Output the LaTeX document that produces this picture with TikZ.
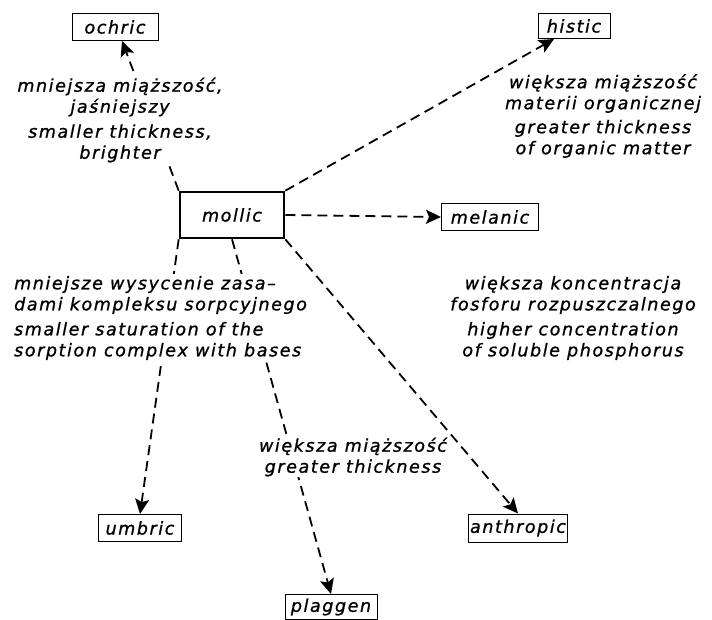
\documentclass[tikz,border=0pt]{standalone}
\usepackage{fontspec}
\setmainfont{DejaVu Sans}
\newfontfamily\beschrift[LetterSpace=9,FakeBold=1]{DejaVu Sans}
\usetikzlibrary{arrows.meta}
\tikzset{
	schrift/.style={font=\beschrift\itshape\fontsize{17.5}{21}\selectfont},
	horizont/.style={schrift,draw,line width=1pt,inner sep=2pt},
	erklaerung/.style={schrift,align=center,fill=white,inner sep=2pt},
	weg/.style={line width=1.8pt,dash pattern=on 10pt off 6pt,-{Stealth[length=15pt,width=14pt,inset=3pt]}}
}
\begin{document}
\begin{tikzpicture}[x=1pt,y=-1pt]
	\useasboundingbox (0,0) rectangle (712,619);
	% Horizonte
	\node[horizont,line width=2.6pt,minimum width=104pt,minimum height=46pt] (mollic) at (232,215) {mollic};
	\node[horizont,minimum width=86pt,minimum height=27pt] (ochric) at (115,27) {ochric};
	\node[horizont,minimum width=72pt,minimum height=25pt] (histic) at (574,26) {histic};
	\node[horizont,minimum width=97pt,minimum height=27pt] (melanic) at (490,217) {melanic};
	\node[horizont,minimum width=83pt,minimum height=27pt] (umbric) at (140,528) {umbric};
	\node[horizont,minimum width=92pt,minimum height=25pt] (plaggen) at (331,607) {plaggen};
	\node[horizont,minimum width=94pt,minimum height=28pt] (anthropic) at (518,528) {anthropic};
	% Pfeile
	\draw[weg] (mollic.north west) to ([xshift=7pt]ochric.south);
	\draw[weg] (mollic.north east) to ([xshift=-20pt]histic.south);
	\draw[weg] (mollic.east) to (melanic.west);
	\draw[weg] (mollic.south west) to (umbric.north);
	\draw[weg] (mollic.south) to (plaggen.north);
	\draw[weg] (mollic.south east) to (anthropic.north);
	% Beschriftungen
	\node[erklaerung] (t-ochric) at (120,120) {mniejsza miąższość,\\ jaśniejszy\\[4pt] smaller thickness,\\ brighter};
	\node[erklaerung] (t-histic) at (603,116) {większa miąższość\\ materii organicznej\\[3pt] greater thickness\\ of organic matter};
	\node[erklaerung] (t-anthropic) at (573,318) {większa koncentracja\\ fosforu rozpuszczalnego\\[4pt] higher concentration\\ of soluble phosphorus};
	\node[erklaerung,align=left,anchor=west] (t-umbric) at (12,318) {mniejsze wysycenie zasa–\\ dami kompleksu sorpcyjnego\\[4pt] smaller saturation of the\\ sorption complex with bases};
	\node[erklaerung,inner sep=1pt] (t-plaggen) at (353,457) {większa miąższość\\ greater thickness};
\end{tikzpicture}
\end{document}
